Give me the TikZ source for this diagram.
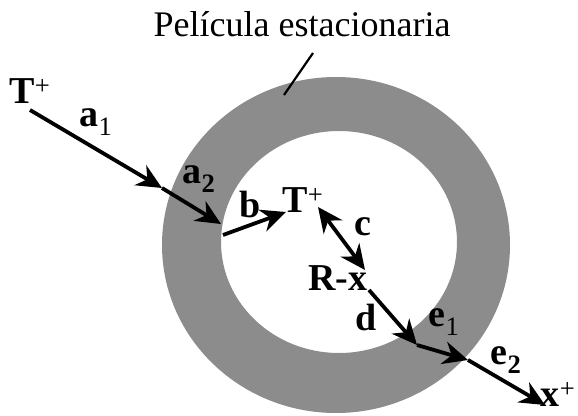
\documentclass[tikz,border=0pt]{standalone}
\usepackage{fontspec}
\setmainfont{Liberation Serif}
\usetikzlibrary{arrows.meta}
\definecolor{FilmGray}{HTML}{8C8C8C}

\begin{document}
\begin{tikzpicture}[x=1pt, y=-1pt,
  lbl/.style={font=\fontsize{38}{40}\selectfont\bfseries, inner sep=0pt},
  flux/.style={line width=3.8pt, -{Stealth[length=25pt, width=23pt, inset=8pt]}},
  both/.style={line width=3.8pt, {Stealth[length=25pt, width=23pt, inset=8pt]}-{Stealth[length=25pt, width=23pt, inset=8pt]}}]
  \useasboundingbox (0,0) rectangle (578,415);
  % Stationary film (ring)
  \fill[FilmGray, even odd rule] (336,245) ellipse [x radius=174, y radius=168]
    (339,242) ellipse [x radius=118, y radius=111];
  % Title and leader
  \node[font=\fontsize{36}{40}\selectfont, inner sep=0pt] (title) at (302,24) {Película estacionaria};
  \coordinate (lead1) at (313,53);
  \coordinate (lead2) at (284,95);
  \draw[line width=2.2pt] (lead1) -- (lead2);
  % Labels
  \node[lbl] (Tout) at (30,91) {T\textsuperscript{\normalfont +}};
  \node[lbl] (a1) at (96,122) {a\textsubscript{\normalfont 1}};
  \node[lbl] (a2) at (199,179) {a\textsubscript{2}};
  \node[lbl] (b) at (250,204) {b};
  \node[lbl] (Tin) at (303,200) {T\textsuperscript{\normalfont +}};
  \node[lbl] (c) at (363,227) {c};
  \node[lbl] (Rx) at (338,278) {R-x};
  \node[lbl] (d) at (366,317) {d};
  \node[lbl] (e1) at (444,322) {e\textsubscript{\normalfont 1}};
  \node[lbl] (e2) at (506,360) {e\textsubscript{2}};
  \node[lbl] (xout) at (558,394) {x\textsuperscript{\normalfont +}};
  % Arrow end points
  \coordinate (p0) at (30,110);
  \coordinate (p1) at (162,188);
  \coordinate (p2) at (221,224);
  \coordinate (p3) at (223,235);
  \coordinate (p4) at (286,212);
  \coordinate (p5) at (318,207);
  \coordinate (p6) at (365,270);
  \coordinate (p7) at (369,290);
  \coordinate (p8) at (417,345);
  \coordinate (p9) at (468,360);
  \coordinate (p10) at (545,405);
  % Fluxes
  \draw[flux] (p0) -- (p1);
  \draw[flux] (p1) -- (p2);
  \draw[flux] (p3) -- (p4);
  \draw[both] (p5) -- (p6);
  \draw[flux] (p7) -- (p8);
  \draw[flux] (p8) -- (p9);
  \draw[flux] (p9) -- (p10);
\end{tikzpicture}
\end{document}
